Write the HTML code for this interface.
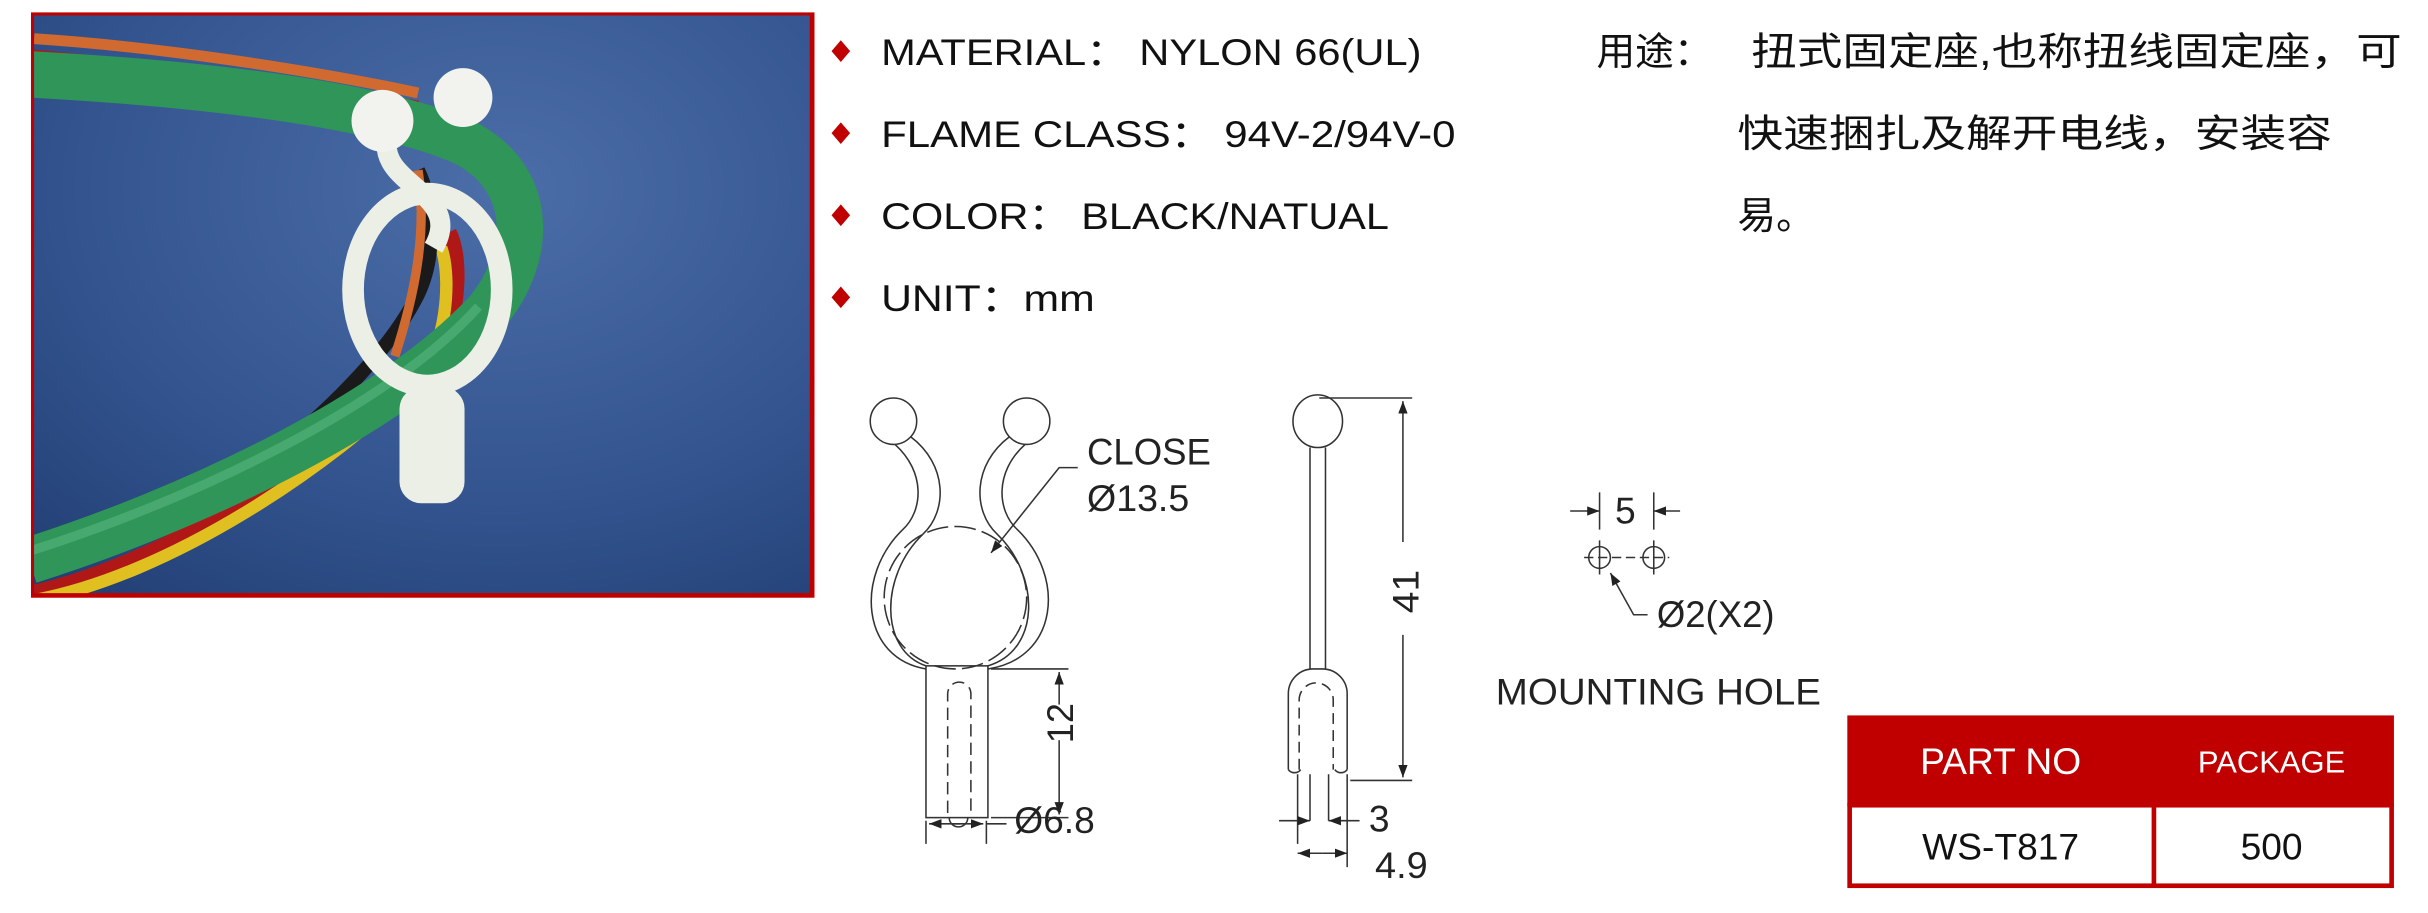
<!DOCTYPE html>
<html><head><meta charset="utf-8"><style>
html,body{margin:0;padding:0;background:#fff;width:2428px;height:913px;overflow:hidden}
svg{display:block}
.t{font-family:"Liberation Sans","Noto Sans CJK SC",sans-serif;fill:#111}
.d{font-family:"Liberation Sans",sans-serif;fill:#222}
</style></head><body>
<svg width="2428" height="913" viewBox="0 0 1568 589.6" preserveAspectRatio="none" xmlns="http://www.w3.org/2000/svg">
<defs>
<radialGradient id="bg" cx="0.6" cy="0.3" r="0.9">
<stop offset="0" stop-color="#4c6ea8"/><stop offset="0.6" stop-color="#33548f"/><stop offset="1" stop-color="#223f74"/>
</radialGradient>
<clipPath id="pc"><rect x="22" y="10" width="501" height="373"/></clipPath>
<marker id="ar" markerWidth="8" markerHeight="6" refX="8" refY="3" orient="auto" markerUnits="userSpaceOnUse"><path d="M0,0 L8,3 L0,6z" fill="#222"/></marker>
</defs>
<!-- photo -->
<rect x="20" y="8" width="506" height="378" fill="#c00000"/>
<g clip-path="url(#pc)">
<rect x="22" y="10" width="501" height="373" fill="url(#bg)"/>
<path d="M10,385 C100,370 220,290 275,240 C295,220 300,170 290,150" stroke="#b01818" stroke-width="10" fill="none"/>
<path d="M20,388 C110,372 215,300 270,245 C288,225 292,180 285,160" stroke="#e0c020" stroke-width="8" fill="none"/>
<path d="M140,320 C200,280 250,230 270,190 C282,165 280,130 270,110" stroke="#1a1a1a" stroke-width="9" fill="none"/>
<path d="M255,230 C268,190 276,150 270,110" stroke="#d06a30" stroke-width="6" fill="none"/>
<path d="M22,25 C100,30 200,45 270,60" stroke="#d06a30" stroke-width="7" fill="none"/>
<path d="M22,35 C100,42 200,55 270,68" stroke="#b01818" stroke-width="6" fill="none"/>
<path d="M22,42 C100,50 200,62 265,74" stroke="#1a1a1a" stroke-width="5" fill="none"/>
<path d="M19,362 C120,330 250,270 314,202 C345,165 345,115 300,92 C250,70 150,55 19,48" stroke="#2f9558" stroke-width="30" fill="none"/>
<path d="M19,356 C120,324 250,264 309,198" stroke="#5ab880" stroke-width="6" fill="none" opacity="0.6"/>
<!-- clip -->
<ellipse cx="276" cy="187" rx="48" ry="62" stroke="#ecefe6" stroke-width="14" fill="none"/>
<path d="M250,90 C245,120 300,125 280,160" stroke="#ecefe6" stroke-width="13" fill="none"/>
<rect x="258" y="250" width="42" height="75" rx="14" fill="#ecefe6"/>
<circle cx="247" cy="78" r="20" fill="#f2f3ee"/>
<circle cx="299" cy="63" r="19" fill="#f2f3ee"/>
</g>
<!-- bullet list -->
<g font-size="24" class="t">
<path d="M543,26 l6,7 -6,7 -6,-7z" fill="#c00000"/>
<text x="569" y="42" textLength="349" lengthAdjust="spacingAndGlyphs">MATERIAL： NYLON 66(UL)</text>
<path d="M543,79 l6,7 -6,7 -6,-7z" fill="#c00000"/>
<text x="569" y="95" textLength="371" lengthAdjust="spacingAndGlyphs">FLAME CLASS： 94V-2/94V-0</text>
<path d="M543,132 l6,7 -6,7 -6,-7z" fill="#c00000"/>
<text x="569" y="148" textLength="328" lengthAdjust="spacingAndGlyphs">COLOR： BLACK/NATUAL</text>
<path d="M543,185 l6,7 -6,7 -6,-7z" fill="#c00000"/>
<text x="569" y="201" textLength="138" lengthAdjust="spacingAndGlyphs">UNIT：mm</text>
</g>
<g font-size="25" class="t">
<text x="1031" y="42">用途：</text>
<text x="1131" y="42" textLength="420" lengthAdjust="spacingAndGlyphs">扭式固定座,也称扭线固定座，可</text>
<text x="1122" y="95" textLength="384" lengthAdjust="spacingAndGlyphs">快速捆扎及解开电线，安装容</text>
<text x="1122" y="148">易。</text>
</g>
<!-- drawing 1 -->
<g stroke="#333" stroke-width="1" fill="none">
<circle cx="577" cy="272" r="15"/>
<circle cx="663" cy="272" r="15"/>
<path d="M588,282 C612,300 612,330 596,345 C568,372 568,420 598,430"/>
<path d="M578,287 C598,305 596,330 583,342 C552,372 556,425 598,432"/>
<path d="M652,282 C628,300 628,330 644,345 C672,372 672,420 638,430"/>
<path d="M662,287 C642,305 644,330 657,342 C688,372 684,425 638,432"/>
<circle cx="617" cy="386" r="46" stroke-dasharray="14,4"/>
<rect x="598" y="430" width="40" height="98"/>
<path d="M612,525 V448 a7.5,7.5 0 0 1 15,0 V525" stroke-dasharray="8,4"/>
<path d="M613,528 a6,6 0 0 0 12,0"/>
<path d="M640,432 H690 M640,528 H690"/>
<path d="M684,455 V434" marker-end="url(#ar)"/>
<path d="M684,478 V526" marker-end="url(#ar)"/>
<path d="M598,530 V545 M637,530 V545"/>
<path d="M620,532 H600" marker-end="url(#ar)"/>
<path d="M615,532 H635" marker-end="url(#ar)"/>
<path d="M637,532 H650"/>
<path d="M696,302 H684 L640,357" marker-end="url(#ar)"/>
</g>
<g class="d" font-size="24">
<text x="702" y="300" textLength="80" lengthAdjust="spacingAndGlyphs">CLOSE</text>
<text x="702" y="330" textLength="66" lengthAdjust="spacingAndGlyphs">Ø13.5</text>
<text x="655" y="538" textLength="52" lengthAdjust="spacingAndGlyphs">Ø6.8</text>
<text transform="translate(693,480) rotate(-90)" textLength="26" lengthAdjust="spacingAndGlyphs">12</text>
</g>
<!-- drawing 2 -->
<g stroke="#333" stroke-width="1" fill="none">
<ellipse cx="851" cy="272" rx="16" ry="17"/>
<path d="M846,289 V432 M856,289 V432"/>
<path d="M832,497 V448 a16,16 0 0 1 16,-16 h6 a16,16 0 0 1 16,16 V497"/>
<path d="M839,497 V452 a11,11 0 0 1 22,0 V497" stroke-dasharray="7,4"/>
<path d="M832,497 a5,5 0 0 0 8,0 M862,497 a5,5 0 0 0 8,0"/>
<path d="M838,500 V545 M846,500 V530 M858,500 V530 M870,500 V560"/>
<path d="M852,257 H912 M872,504 H912"/>
<path d="M906,350 V259" marker-end="url(#ar)"/>
<path d="M906,410 V502" marker-end="url(#ar)"/>
<path d="M826,530 H846" marker-end="url(#ar)"/>
<path d="M878,530 H858" marker-end="url(#ar)"/>
<path d="M854,551 H838" marker-end="url(#ar)"/>
<path d="M854,551 H870" marker-end="url(#ar)"/>
</g>
<g class="d" font-size="24">
<text transform="translate(916,396) rotate(-90)" textLength="28" lengthAdjust="spacingAndGlyphs">41</text>
<text x="884" y="537">3</text>
<text x="888" y="567" textLength="34" lengthAdjust="spacingAndGlyphs">4.9</text>
</g>
<!-- mounting hole -->
<g stroke="#333" stroke-width="1" fill="none">
<path d="M1033,318 V342 M1068,318 V342"/>
<path d="M1014,330 H1033" marker-end="url(#ar)"/>
<path d="M1085,330 H1068" marker-end="url(#ar)"/>
<circle cx="1033" cy="360" r="7"/><circle cx="1068" cy="360" r="7"/>
<path d="M1023,360 H1078" stroke-dasharray="6,3"/>
<path d="M1033,349 V371 M1068,349 V371"/>
<path d="M1064,397 H1055 L1040,370" marker-end="url(#ar)"/>
</g>
<g class="d" font-size="24">
<text x="1043" y="338">5</text>
<text x="1070" y="405" textLength="76" lengthAdjust="spacingAndGlyphs">Ø2(X2)</text>
<text x="966" y="455" textLength="210" lengthAdjust="spacingAndGlyphs">MOUNTING  HOLE</text>
</g>
<!-- table -->
<rect x="1193" y="462" width="353" height="59" fill="#c00000"/>
<rect x="1194.5" y="520" width="350" height="52" fill="#fff" stroke="#c00000" stroke-width="3"/>
<path d="M1391,520 V573" stroke="#c00000" stroke-width="3"/>
<g font-family="Liberation Sans,sans-serif" text-anchor="middle">
<text x="1292" y="500" font-size="24" fill="#fff">PART NO</text>
<text x="1467" y="499" font-size="20" fill="#fff">PACKAGE</text>
<text x="1292" y="555" font-size="24" fill="#111">WS-T817</text>
<text x="1467" y="555" font-size="24" fill="#111">500</text>
</g>
</svg>
</body></html>
